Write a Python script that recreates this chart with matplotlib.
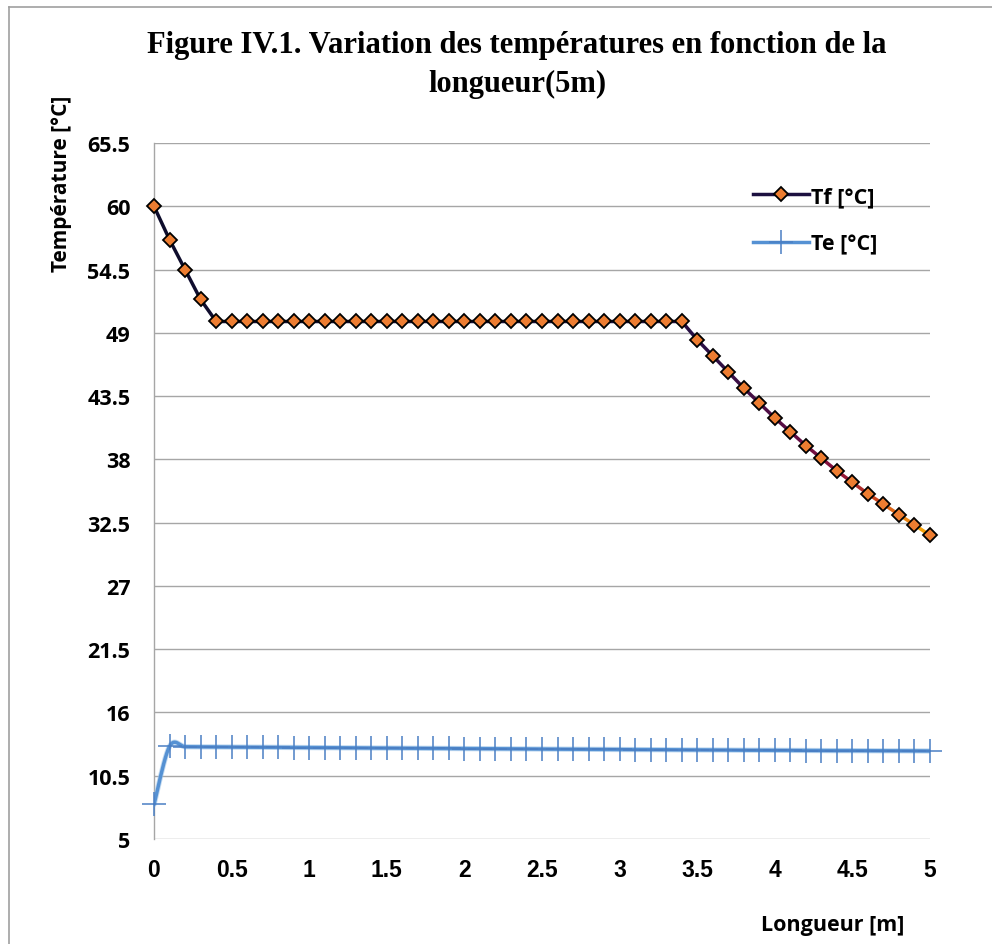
import numpy as np
import matplotlib
matplotlib.use("Agg")
import matplotlib.pyplot as plt
from matplotlib.collections import LineCollection
from matplotlib.colors import LinearSegmentedColormap
from matplotlib.lines import Line2D

# ---------------- data ----------------
x = [0.0, 0.1, 0.2, 0.3, 0.4, 0.5, 0.6, 0.7, 0.8, 0.9, 1.0,
     1.1, 1.2, 1.3, 1.4, 1.5, 1.6, 1.7, 1.8, 1.9, 2.0,
     2.1, 2.2, 2.3, 2.4, 2.5, 2.6, 2.7, 2.8, 2.9, 3.0,
     3.1, 3.2, 3.3, 3.4, 3.5, 3.6, 3.7, 3.8, 3.9, 4.0,
     4.1, 4.2, 4.3, 4.4, 4.5, 4.6, 4.7, 4.8, 4.9, 5.0]

tf = [60.0, 57.1, 54.5, 51.9, 50.0, 50.0, 50.0, 50.0, 50.0, 50.0, 50.0,
      50.0, 50.0, 50.0, 50.0, 50.0, 50.0, 50.0, 50.0, 50.0, 50.0,
      50.0, 50.0, 50.0, 50.0, 50.0, 50.0, 50.0, 50.0, 50.0, 50.0,
      50.0, 50.0, 50.0, 50.0, 48.4, 47.0, 45.6, 44.2, 42.9, 41.6,
      40.4, 39.2, 38.1, 37.0, 36.0, 35.0, 34.1, 33.2, 32.3, 31.4]

te = [8.0, 13.05, 13.02, 13.01, 13.00, 12.99, 12.98, 12.97, 12.96, 12.95, 12.94,
      12.93, 12.92, 12.92, 12.91, 12.90, 12.89, 12.88, 12.87, 12.87, 12.86,
      12.85, 12.84, 12.83, 12.83, 12.82, 12.81, 12.80, 12.79, 12.79, 12.78,
      12.77, 12.76, 12.76, 12.75, 12.74, 12.73, 12.73, 12.72, 12.71, 12.71,
      12.70, 12.69, 12.69, 12.68, 12.68, 12.67, 12.67, 12.66, 12.66, 12.65]

y_ticks = [5, 10.5, 16, 21.5, 27, 32.5, 38, 43.5, 49, 54.5, 60, 65.5]
y_tick_labels = ["5", "10.5", "16", "21.5", "27", "32.5", "38", "43.5", "49", "54.5", "60", "65.5"]
x_ticks = [0, 0.5, 1, 1.5, 2, 2.5, 3, 3.5, 4, 4.5, 5]
x_tick_labels = ["0", "0.5", "1", "1.5", "2", "2.5", "3", "3.5", "4", "4.5", "5"]

title = "Figure IV.1. Variation des températures en fonction de la\nlongueur(5m)"
ylabel = "Température [°C]"
xlabel = "Longueur [m]"
series_names = ["Tf [°C]", "Te [°C]"]


def smooth(xs, ys, n=12):
    """Excel-like smoothed line (Bezier) used only for drawing the line."""
    xs = np.asarray(xs, float)
    ys = np.asarray(ys, float)
    px = np.concatenate([[xs[0]], xs, [xs[-1]]])
    py = np.concatenate([[ys[0]], ys, [ys[-1]]])
    out_x, out_y = [], []
    t = np.linspace(0, 1, n, endpoint=False)
    for i in range(1, len(px) - 2):
        p0 = np.array([px[i], py[i]])
        p3 = np.array([px[i + 1], py[i + 1]])
        c1 = p0 + (np.array([px[i + 1], py[i + 1]]) - np.array([px[i - 1], py[i - 1]])) / 6
        c2 = p3 - (np.array([px[i + 2], py[i + 2]]) - np.array([px[i], py[i]])) / 6
        b = ((1 - t) ** 3)[:, None] * p0 + (3 * (1 - t) ** 2 * t)[:, None] * c1 \
            + (3 * (1 - t) * t ** 2)[:, None] * c2 + (t ** 3)[:, None] * p3
        out_x.extend(b[:, 0])
        out_y.extend(b[:, 1])
    out_x.append(xs[-1])
    out_y.append(ys[-1])
    return np.array(out_x), np.array(out_y)


sans = ["Open Sans", "DejaVu Sans"]
plt.rcParams["font.family"] = sans
plt.rcParams["font.weight"] = "bold"

W, H = 992, 945
fig = plt.figure(figsize=(W / 100, H / 100), dpi=100)
ax = fig.add_axes([154 / W, 1 - 840 / H, 776 / W, 696 / H])

grid_col = "#a6a6a6"

ax.set_xlim(0, 5)
ax.set_ylim(5, 65.5)
ax.set_yticks(y_ticks)
ax.set_yticklabels(y_tick_labels, fontfamily=sans, fontweight="bold", fontsize=15.5)
ax.set_xticks(x_ticks)
ax.set_xticklabels(x_tick_labels, fontfamily=["Liberation Sans", "DejaVu Sans"],
                   fontweight="bold", fontsize=16.5)
ax.tick_params(length=0)
ax.tick_params(axis="y", pad=17)
ax.tick_params(axis="x", pad=14)

ax.grid(axis="y", color=grid_col, linewidth=1.0)
ax.set_axisbelow(True)
for s in ["top", "right", "bottom"]:
    ax.spines[s].set_visible(False)
ax.spines["left"].set_color(grid_col)
ax.spines["left"].set_linewidth(1.0)

# Te series (smoothed blue line with + markers)
sx, sy = smooth(x, te)
ax.plot(sx, sy, color="#9cc3e8", linewidth=3.8, solid_capstyle="round", zorder=3, alpha=0.6)
ax.plot(sx, sy, color="#5591d3", linewidth=2.5, solid_capstyle="round", zorder=3)
ax.plot(x, te, linestyle="none", marker="+", markersize=17, markeredgewidth=1.1,
        color="#4a7fc4", zorder=4, clip_on=False)

# Tf series (gradient line + orange diamonds)
cmap = LinearSegmentedColormap.from_list(
    "tfgrad",
    [(0.0, "#0e0d2c"), (0.6, "#1c1040"), (0.72, "#2c0f44"), (0.82, "#5c0d45"),
     (0.88, "#8a0f3c"), (0.93, "#c8401e"), (0.97, "#ea8216"), (1.0, "#f6a800")])
pts = np.column_stack([x, tf])
segs = np.stack([pts[:-1], pts[1:]], axis=1)
mids = (np.array(x[:-1]) + np.array(x[1:])) / 2 / 5.0
lc = LineCollection(segs, colors=cmap(mids), linewidths=2.5, zorder=5, capstyle="round")
ax.add_collection(lc)
ax.plot(x, tf, linestyle="none", marker="D", markersize=7.4, markerfacecolor="#ed7d31",
        markeredgecolor="black", markeredgewidth=1.3, zorder=6, clip_on=False)

# legend
h1 = Line2D([], [], color="#1c1040", linewidth=2.5, marker="D", markersize=7.4,
            markerfacecolor="#ed7d31", markeredgecolor="black", markeredgewidth=1.3)
h2 = Line2D([], [], color="#5591d3", linewidth=2.5, marker="+", markersize=17,
            markeredgewidth=1.1, markeredgecolor="#4a7fc4")
leg = fig.legend([h1, h2], series_names, loc="upper left",
                 bbox_to_anchor=(753 / W, 1 - 187 / H), frameon=False,
                 prop={"family": sans, "weight": "bold", "size": 15.5},
                 handlelength=2.6, handletextpad=0.1, labelspacing=1.25,
                 borderpad=0, borderaxespad=0)

# titles / labels
fig.text(517 / W, 1 - 65 / H, title, ha="center", va="center",
         fontfamily="Liberation Serif", fontweight="bold", fontsize=22,
         linespacing=1.42)
fig.text(62 / W, 1 - 184 / H, ylabel, rotation=90, ha="center", va="center",
         fontfamily=sans, fontweight="bold", fontsize=15)
fig.text(833 / W, 1 - 926 / H, xlabel, ha="center", va="center",
         fontfamily=sans, fontweight="bold", fontsize=15.5)

# outer chart border (left and top)
fig.add_artist(Line2D([9 / W, 9 / W], [0, 1 - 8 / H], transform=fig.transFigure,
                      color="#a0a0a0", linewidth=1.2))
fig.add_artist(Line2D([9 / W, 1], [1 - 8 / H, 1 - 8 / H], transform=fig.transFigure,
                      color="#a0a0a0", linewidth=1.2))

fig.savefig("out.png", dpi=100)
